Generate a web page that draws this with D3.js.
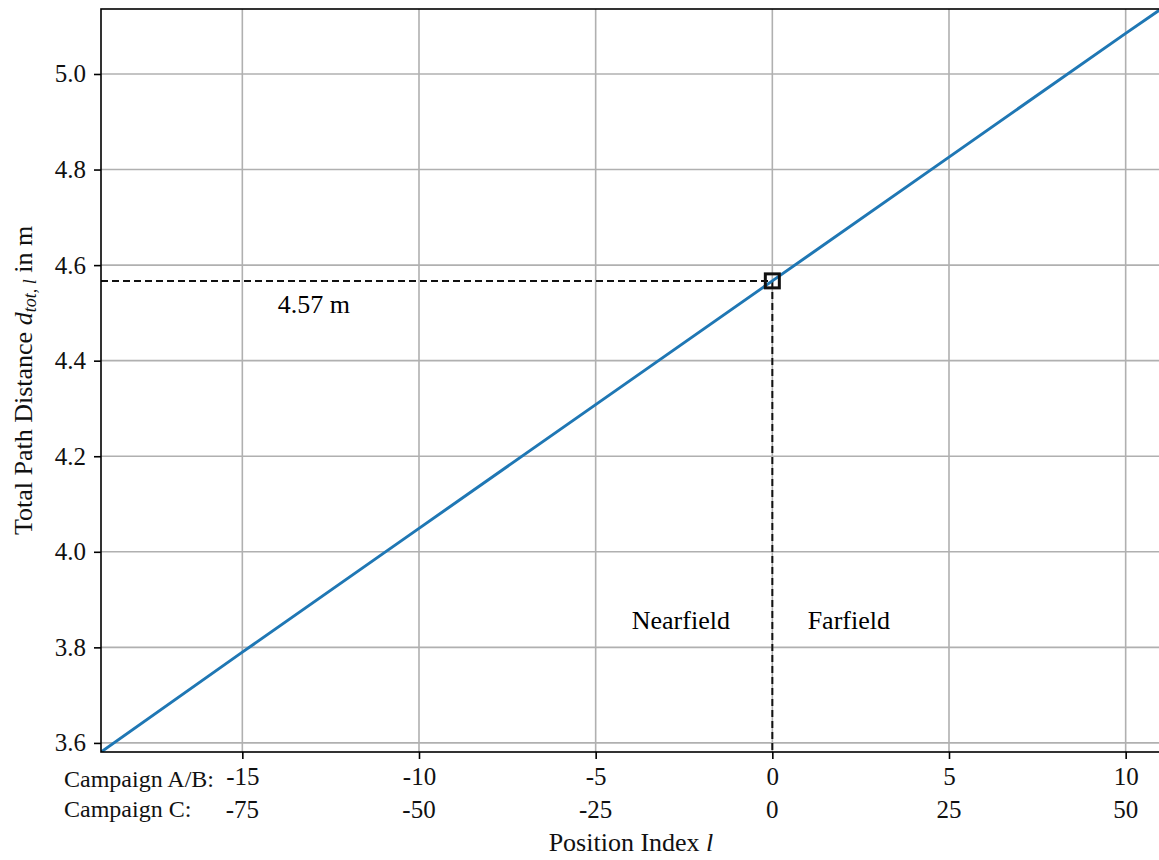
<!DOCTYPE html>
<html>
<head>
<meta charset="utf-8">
<script src="https://cdn.jsdelivr.net/npm/d3@7"></script>
<style>
  body { margin: 0; background: #fff; }
  text { font-family: "Liberation Serif", "DejaVu Serif", serif; }
</style>
</head>
<body>
<div id="chart"></div>
<script>
// Total path distance vs. position index

const positions = [-19, -15, -10, -5, 0, 5, 10, 11];
const distances = [3.581, 3.790, 4.049, 4.308, 4.567, 4.826, 5.085, 5.136];
const ticksAB = [-15, -10, -5, 0, 5, 10];
const ticksC = ["-75", "-50", "-25", "0", "25", "50"];
const yTicks = [3.6, 3.8, 4.0, 4.2, 4.4, 4.6, 4.8, 5.0];
const refPos = 0, refDist = 4.567;

const width = 1159,
    height = 860,
    margin = ({top: 9, right: -2, bottom: 108, left: 101});

const fs = 25;

let svg = d3.select("#chart")
    .append("svg")
    .attr("width", width)
    .attr("height", height);

const x = d3.scaleLinear()
    .domain([-19, 11])
    .range([margin.left, width - margin.right]);

const y = d3.scaleLinear()
    .domain([3.581, 5.136])
    .range([height - margin.bottom, margin.top]);

const x0 = margin.left, x1 = width - margin.right;
const y0 = height - margin.bottom, y1 = margin.top;

// grid
svg.append("g")
    .selectAll("line")
    .data(ticksAB)
    .join("line")
    .attr("x1", d => x(d)).attr("x2", d => x(d))
    .attr("y1", y0).attr("y2", y1)
    .attr("stroke", "#b0b0b0").attr("stroke-width", 1.6);

svg.append("g")
    .selectAll("line")
    .data(yTicks)
    .join("line")
    .attr("x1", x0).attr("x2", x1)
    .attr("y1", d => y(d)).attr("y2", d => y(d))
    .attr("stroke", "#b0b0b0").attr("stroke-width", 1.6);

svg.append("clipPath").attr("id", "clip")
    .append("rect")
    .attr("x", x0).attr("y", y1)
    .attr("width", x1 - x0).attr("height", y0 - y1);

// dashed guides
svg.append("line")
    .attr("x1", x0).attr("x2", x(refPos))
    .attr("y1", y(refDist)).attr("y2", y(refDist))
    .attr("stroke", "#111").attr("stroke-width", 2)
    .attr("stroke-dasharray", "7,4");

svg.append("line")
    .attr("x1", x(refPos)).attr("x2", x(refPos))
    .attr("y1", y(refDist)).attr("y2", y0)
    .attr("stroke", "#111").attr("stroke-width", 2)
    .attr("stroke-dasharray", "7,4");

// data line
const line = d3.line()
    .x((d, i) => x(positions[i]))
    .y(d => y(d));

svg.append("path")
    .datum(distances)
    .attr("clip-path", "url(#clip)")
    .attr("fill", "none")
    .attr("stroke", "#1f77b4")
    .attr("stroke-width", 3)
    .attr("d", line);

// marker
svg.append("rect")
    .attr("x", x(refPos) - 7).attr("y", y(refDist) - 7)
    .attr("width", 14).attr("height", 14)
    .attr("fill", "none")
    .attr("stroke", "#111").attr("stroke-width", 3);

// annotations
svg.append("text")
    .attr("x", x(-14)).attr("y", y(4.5))
    .attr("font-size", 26)
    .text("4.57 m");

svg.append("text")
    .attr("x", x(-1.2)).attr("y", y(3.85) + 6)
    .attr("text-anchor", "end")
    .attr("font-size", 26)
    .text("Nearfield");

svg.append("text")
    .attr("x", x(1)).attr("y", y(3.85) + 6)
    .attr("font-size", 26)
    .text("Farfield");

// axes
const yAxis = g => g
    .attr("transform", `translate(${x0},0)`)
    .call(d3.axisLeft(y).tickValues(yTicks).tickFormat(d3.format(".1f"))
        .tickSize(7).tickPadding(8))
    .call(g => g.select(".domain").remove())
    .call(g => g.selectAll(".tick line").attr("stroke", "#000").attr("stroke-width", 1.6))
    .call(g => g.selectAll(".tick text")
        .attr("font-family", "Liberation Serif").attr("font-size", fs).attr("fill", "#111"));

const xAxis = g => g
    .attr("transform", `translate(0,${y0})`)
    .call(d3.axisBottom(x).tickValues(ticksAB).tickFormat(d => d)
        .tickSize(7).tickPadding(8))
    .call(g => g.select(".domain").remove())
    .call(g => g.selectAll(".tick line").attr("stroke", "#000").attr("stroke-width", 1.6))
    .call(g => g.selectAll(".tick text")
        .attr("font-family", "Liberation Serif").attr("font-size", fs).attr("fill", "#111"));

svg.append("g").call(yAxis);
svg.append("g").call(xAxis);

// second row of tick labels (campaign C)
svg.append("g")
    .selectAll("text")
    .data(ticksC)
    .join("text")
    .attr("x", (d, i) => x(ticksAB[i]))
    .attr("y", y0 + 66)
    .attr("text-anchor", "middle")
    .attr("font-size", fs)
    .attr("fill", "#111")
    .text(d => d);

svg.append("text")
    .attr("x", 64).attr("y", y0 + 35)
    .attr("font-size", 24).attr("fill", "#111")
    .text("Campaign A/B:");

svg.append("text")
    .attr("x", 64).attr("y", y0 + 65)
    .attr("font-size", 24).attr("fill", "#111")
    .text("Campaign C:");

// spines
svg.append("rect")
    .attr("x", x0).attr("y", y1)
    .attr("width", x1 - x0).attr("height", y0 - y1)
    .attr("fill", "none")
    .attr("stroke", "#000").attr("stroke-width", 1.6);

// axis titles
const xl = svg.append("text")
    .attr("x", (x0 + x1) / 2).attr("y", y0 + 99)
    .attr("text-anchor", "middle")
    .attr("font-size", 26).attr("fill", "#111");
xl.append("tspan").text("Position Index ");
xl.append("tspan").attr("font-style", "italic").text("l");

const yl = svg.append("text")
    .attr("transform", `translate(32,${(y0 + y1) / 2}) rotate(-90)`)
    .attr("text-anchor", "middle")
    .attr("font-size", 26).attr("fill", "#111");
yl.append("tspan").text("Total Path Distance ");
yl.append("tspan").attr("font-style", "italic").text("d");
yl.append("tspan").attr("font-style", "italic").attr("font-size", 18).attr("dy", 4).text("tot, l");
yl.append("tspan").attr("dy", -4).text(" in m");
</script>
</body>
</html>
